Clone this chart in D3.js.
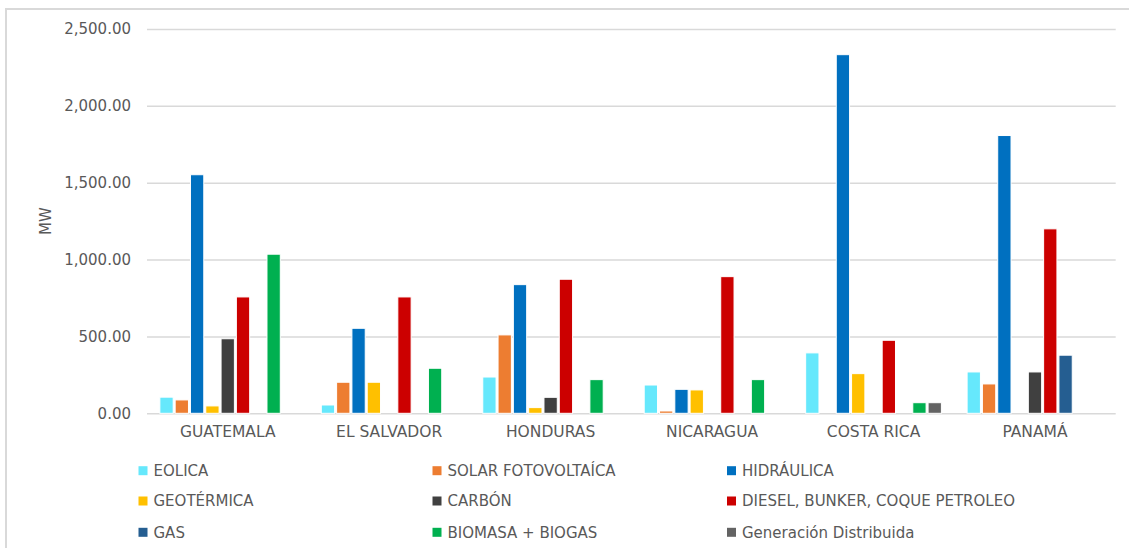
<!DOCTYPE html>
<html>
<head>
<meta charset="utf-8">
<script src="https://cdn.jsdelivr.net/npm/d3@7"></script>
<style>
  html, body { margin: 0; padding: 0; background: #fff; }
  svg { display: block; }
  text { font-family: "DejaVu Sans", sans-serif; fill: #595959; }
</style>
</head>
<body>
<svg id="chart" width="1129" height="550"></svg>
<script>
const countries = ["GUATEMALA", "EL SALVADOR", "HONDURAS", "NICARAGUA", "COSTA RICA", "PANAMÁ"];
const seriesNames = ["EOLICA", "SOLAR FOTOVOLTAÍCA", "HIDRÁULICA", "GEOTÉRMICA", "CARBÓN",
  "DIESEL, BUNKER, COQUE PETROLEO", "GAS", "BIOMASA + BIOGAS", "Generación Distribuida"];
const seriesColors = ["#66E8FC", "#ED7D31", "#0070C0", "#FFC000", "#404040",
  "#CC0000", "#255E91", "#00B050", "#636363"];

const eolica     = [105, 54, 236, 184, 393, 269];
const solar      = [87, 202, 510, 15, 0, 191];
const hidraulica = [1552, 553, 837, 156, 2333, 1807];
const geotermica = [48, 202, 37, 152, 258, 0];
const carbon     = [485, 0, 104, 0, 0, 269];
const diesel     = [757, 757, 872, 889, 475, 1200];
const gas        = [0, 0, 0, 0, 0, 378];
const biomasa    = [1035, 293, 219, 219, 69, 0];
const genDist    = [0, 0, 0, 0, 69, 0];

const yTicks = [0, 500, 1000, 1500, 2000, 2500];

const seriesValues = [eolica, solar, hidraulica, geotermica, carbon, diesel, gas, biomasa, genDist];

const svg = d3.select("#chart");

// outer border (top + left)
svg.append("path")
  .attr("d", "M6,548 L6,9 L1129,9")
  .attr("fill", "none")
  .attr("stroke", "#D9D9D9")
  .attr("stroke-width", 2);

const plotLeft = 147, plotRight = 1115.7, plotTop = 29, plotBottom = 413.3;

const x0 = d3.scaleBand().domain(countries).range([plotLeft, plotRight]).paddingInner(0).paddingOuter(0);
const x1 = d3.scaleBand().domain(d3.range(seriesNames.length)).range([0, x0.bandwidth()])
  .paddingInner(0.13).paddingOuter(0.84);
const y = d3.scaleLinear().domain([0, 2500]).range([plotBottom, plotTop]);

// gridlines
const yAxis = d3.axisLeft(y).tickValues(yTicks)
  .tickSize(-(plotRight - plotLeft))
  .tickPadding(16)
  .tickFormat(d3.format(",.2f"));
const gy = svg.append("g").attr("transform", `translate(${plotLeft},0)`).call(yAxis);
gy.select(".domain").remove();
gy.selectAll(".tick line").attr("stroke", "#D9D9D9").attr("stroke-width", 1.5);
gy.selectAll(".tick text").attr("font-size", 15).attr("fill", "#595959")
  .style("font-family", "DejaVu Sans, sans-serif");

// category axis labels
const xAxis = d3.axisBottom(x0).tickSize(0).tickPadding(13);
const gx = svg.append("g").attr("transform", `translate(0,${plotBottom})`).call(xAxis);
gx.select(".domain").remove();
gx.selectAll(".tick text").attr("font-size", 15.5).attr("fill", "#595959")
  .style("font-family", "DejaVu Sans, sans-serif");

// bars
const groups = svg.append("g").selectAll("g")
  .data(countries)
  .join("g")
  .attr("transform", d => `translate(${x0(d)},0)`);

groups.selectAll("rect")
  .data((c, ci) => seriesValues.map((vals, si) => ({ si, v: vals[ci] })).filter(d => d.v > 0))
  .join("rect")
  .attr("x", d => x1(d.si))
  .attr("width", x1.bandwidth())
  .attr("y", d => y(d.v))
  .attr("height", d => y(0) - y(d.v))
  .attr("fill", d => seriesColors[d.si])
  .attr("stroke", "#fff")
  .attr("stroke-width", 1);

// y axis title
svg.append("text")
  .attr("transform", "translate(51,221) rotate(-90)")
  .attr("text-anchor", "middle")
  .attr("font-size", 15)
  .text("MW");

// legend
const legCols = [138.5, 432.5, 727];
const legRows = [470.7, 501, 532.3];
const leg = svg.append("g").selectAll("g")
  .data(seriesNames)
  .join("g")
  .attr("transform", (d, i) => `translate(${legCols[i % 3]},${legRows[Math.floor(i / 3)]})`);
leg.append("rect")
  .attr("x", 0).attr("y", -4.5).attr("width", 9).attr("height", 9)
  .attr("fill", (d, i) => seriesColors[i]);
leg.append("text")
  .attr("x", 15).attr("dy", "0.36em")
  .attr("font-size", 15)
  .text(d => d);
</script>
</body>
</html>
